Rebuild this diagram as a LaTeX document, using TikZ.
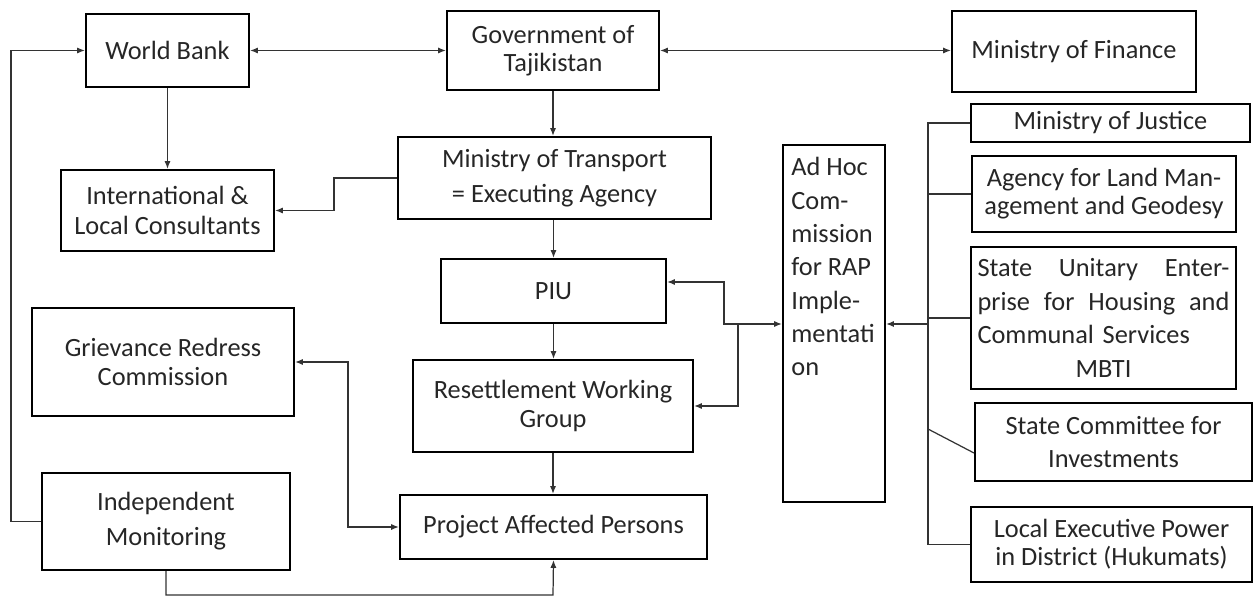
\documentclass[tikz,border=0pt]{standalone}
\usepackage{fontspec}
\setmainfont{Carlito}
\usetikzlibrary{arrows.meta}
\tikzset{
    box/.style={draw, line width=1.2pt, align=center, inner sep=0pt, text=black!85,
        font=\fontsize{15}{16}\selectfont},
    tall/.style={font=\fontsize{15}{20}\selectfont},
    link/.style={line width=0.7pt, draw=black!80},
    arr/.style={link, -{Latex[length=4.5pt,width=3.5pt]}},
    darr/.style={link, {Latex[length=4.5pt,width=3.5pt]}-{Latex[length=4.5pt,width=3.5pt]}},
}
\begin{document}
\begin{tikzpicture}[x=0.02cm, y=-0.02cm]
    \useasboundingbox (0, 0) rectangle (1253, 597);
    % top row
    \node[box, minimum width=3.26cm, minimum height=1.46cm] (wb) at (167.5, 50.5) {World Bank};
    \node[box, minimum width=4.24cm, minimum height=1.58cm] (gov) at (553, 50.5) {Government of\\Tajikistan};
    \node[box, minimum width=4.88cm, minimum height=1.62cm] (mof) at (1074, 51.5) {Ministry of Finance};
    % middle column
    \node[box, minimum width=4.26cm, minimum height=1.62cm, font=\fontsize{15}{17}\selectfont] (cons) at (167.5, 210.5) {International \&\\Local Consultants};
    \node[box, tall, minimum width=6.26cm, minimum height=1.64cm] (mot) at (554.5, 178) {Ministry of Transport\\= Executing Agency};
    \node[box, minimum width=4.5cm, minimum height=1.28cm] (piu) at (553.5, 291) {PIU};
    \node[box, minimum width=5.6cm, minimum height=1.84cm] (rwg) at (553, 406) {Resettlement Working\\Group};
    \node[box, minimum width=6.14cm, minimum height=1.28cm] (pap) at (553.5, 527) {Project Affected Persons};
    \node[box, minimum width=5.24cm, minimum height=2.16cm, font=\fontsize{15}{17}\selectfont] (grc) at (163, 362) {Grievance Redress\\Commission};
    \node[box, tall, minimum width=4.96cm, minimum height=1.94cm] (im) at (166, 521.5) {Independent\\Monitoring};
    % commission box, text set from the top
    \node[box, minimum width=2.04cm, minimum height=7.14cm] (adhoc) at (834, 323.5) {};
    \node[anchor=north west, align=left, inner sep=0pt, text=black!85, font=\fontsize{15}{19}\selectfont] (adhoctxt) at (791, 157)
        {Ad Hoc\\Com-\\mission\\for RAP\\Imple-\\mentati\\on};
    % right column
    \node[box, minimum width=5.58cm, minimum height=0.76cm] (moj) at (1110.5, 123) {Ministry of Justice};
    \node[box, minimum width=5.28cm, minimum height=1.52cm] (alm) at (1104, 194) {Agency for Land Man-\\agement and Geodesy};
    \node[box, minimum width=5.3cm, minimum height=2.84cm, text width=5.04cm, align=left, font=\fontsize{15}{19}\selectfont] (sue) at (1103.5, 318)
        {State\hfill Unitary\hfill Enter-\\prise\hfill for\hfill Housing\hfill and\\Communal Services\\\hspace*{\fill}MBTI\hspace*{\fill}};
    \node[box, minimum width=5.54cm, minimum height=1.56cm, font=\fontsize{15}{19}\selectfont] (scfi) at (1113.5, 442) {State Committee for\\Investments};
    \node[box, minimum width=5.62cm, minimum height=1.5cm] (lep) at (1111.5, 544.5) {Local Executive Power\\in District (Hukumats)};

    \coordinate (j1) at (724, 324);
    \coordinate (j2) at (738, 324);
    \coordinate (bus) at (928, 324);
    \coordinate (kink) at (928, 429);
    \coordinate (low) at (553, 595);

    \draw[darr] (wb.east) -- (gov.west);
    \draw[darr] (gov.east) -- (gov.east -| mof.west);
    \draw[arr] (wb.south) -- (cons.north);
    \draw[arr] (gov.south) -- (gov.south |- mot.north);
    \draw[arr] (mot.west) -- ++(-63, 0) |- (cons.east);
    \draw[arr] (mot.south -| piu.north) -- (piu.north);
    \draw[arr] (piu.south) -- (piu.south |- rwg.north);
    \draw[arr] (rwg.south) -- (rwg.south |- pap.north);
    \draw[darr] ([yshift=0.18cm]piu.east) -| (j1) -- (j1 -| adhoc.west);
    \draw[arr] (j2) |- (rwg.east);
    \draw[darr] (grc.east) -- ++(53, 0) |- (pap.west);
    \draw[arr] (im.west) -- ++(-30, 0) |- (wb.west);
    \draw[arr] (im.south) |- (low) -- (pap.south);
    % agencies feeding the commission
    \draw[arr] (bus) -- (bus -| adhoc.east);
    \draw[link] (moj.west) -| (bus) |- (lep.west);
    \draw[link] (alm.west) -- (alm.west -| bus);
    \draw[link] (sue.west) -- (sue.west -| bus);
    \draw[link] (kink) -- ([yshift=-0.22cm]scfi.west);
\end{tikzpicture}
\end{document}
